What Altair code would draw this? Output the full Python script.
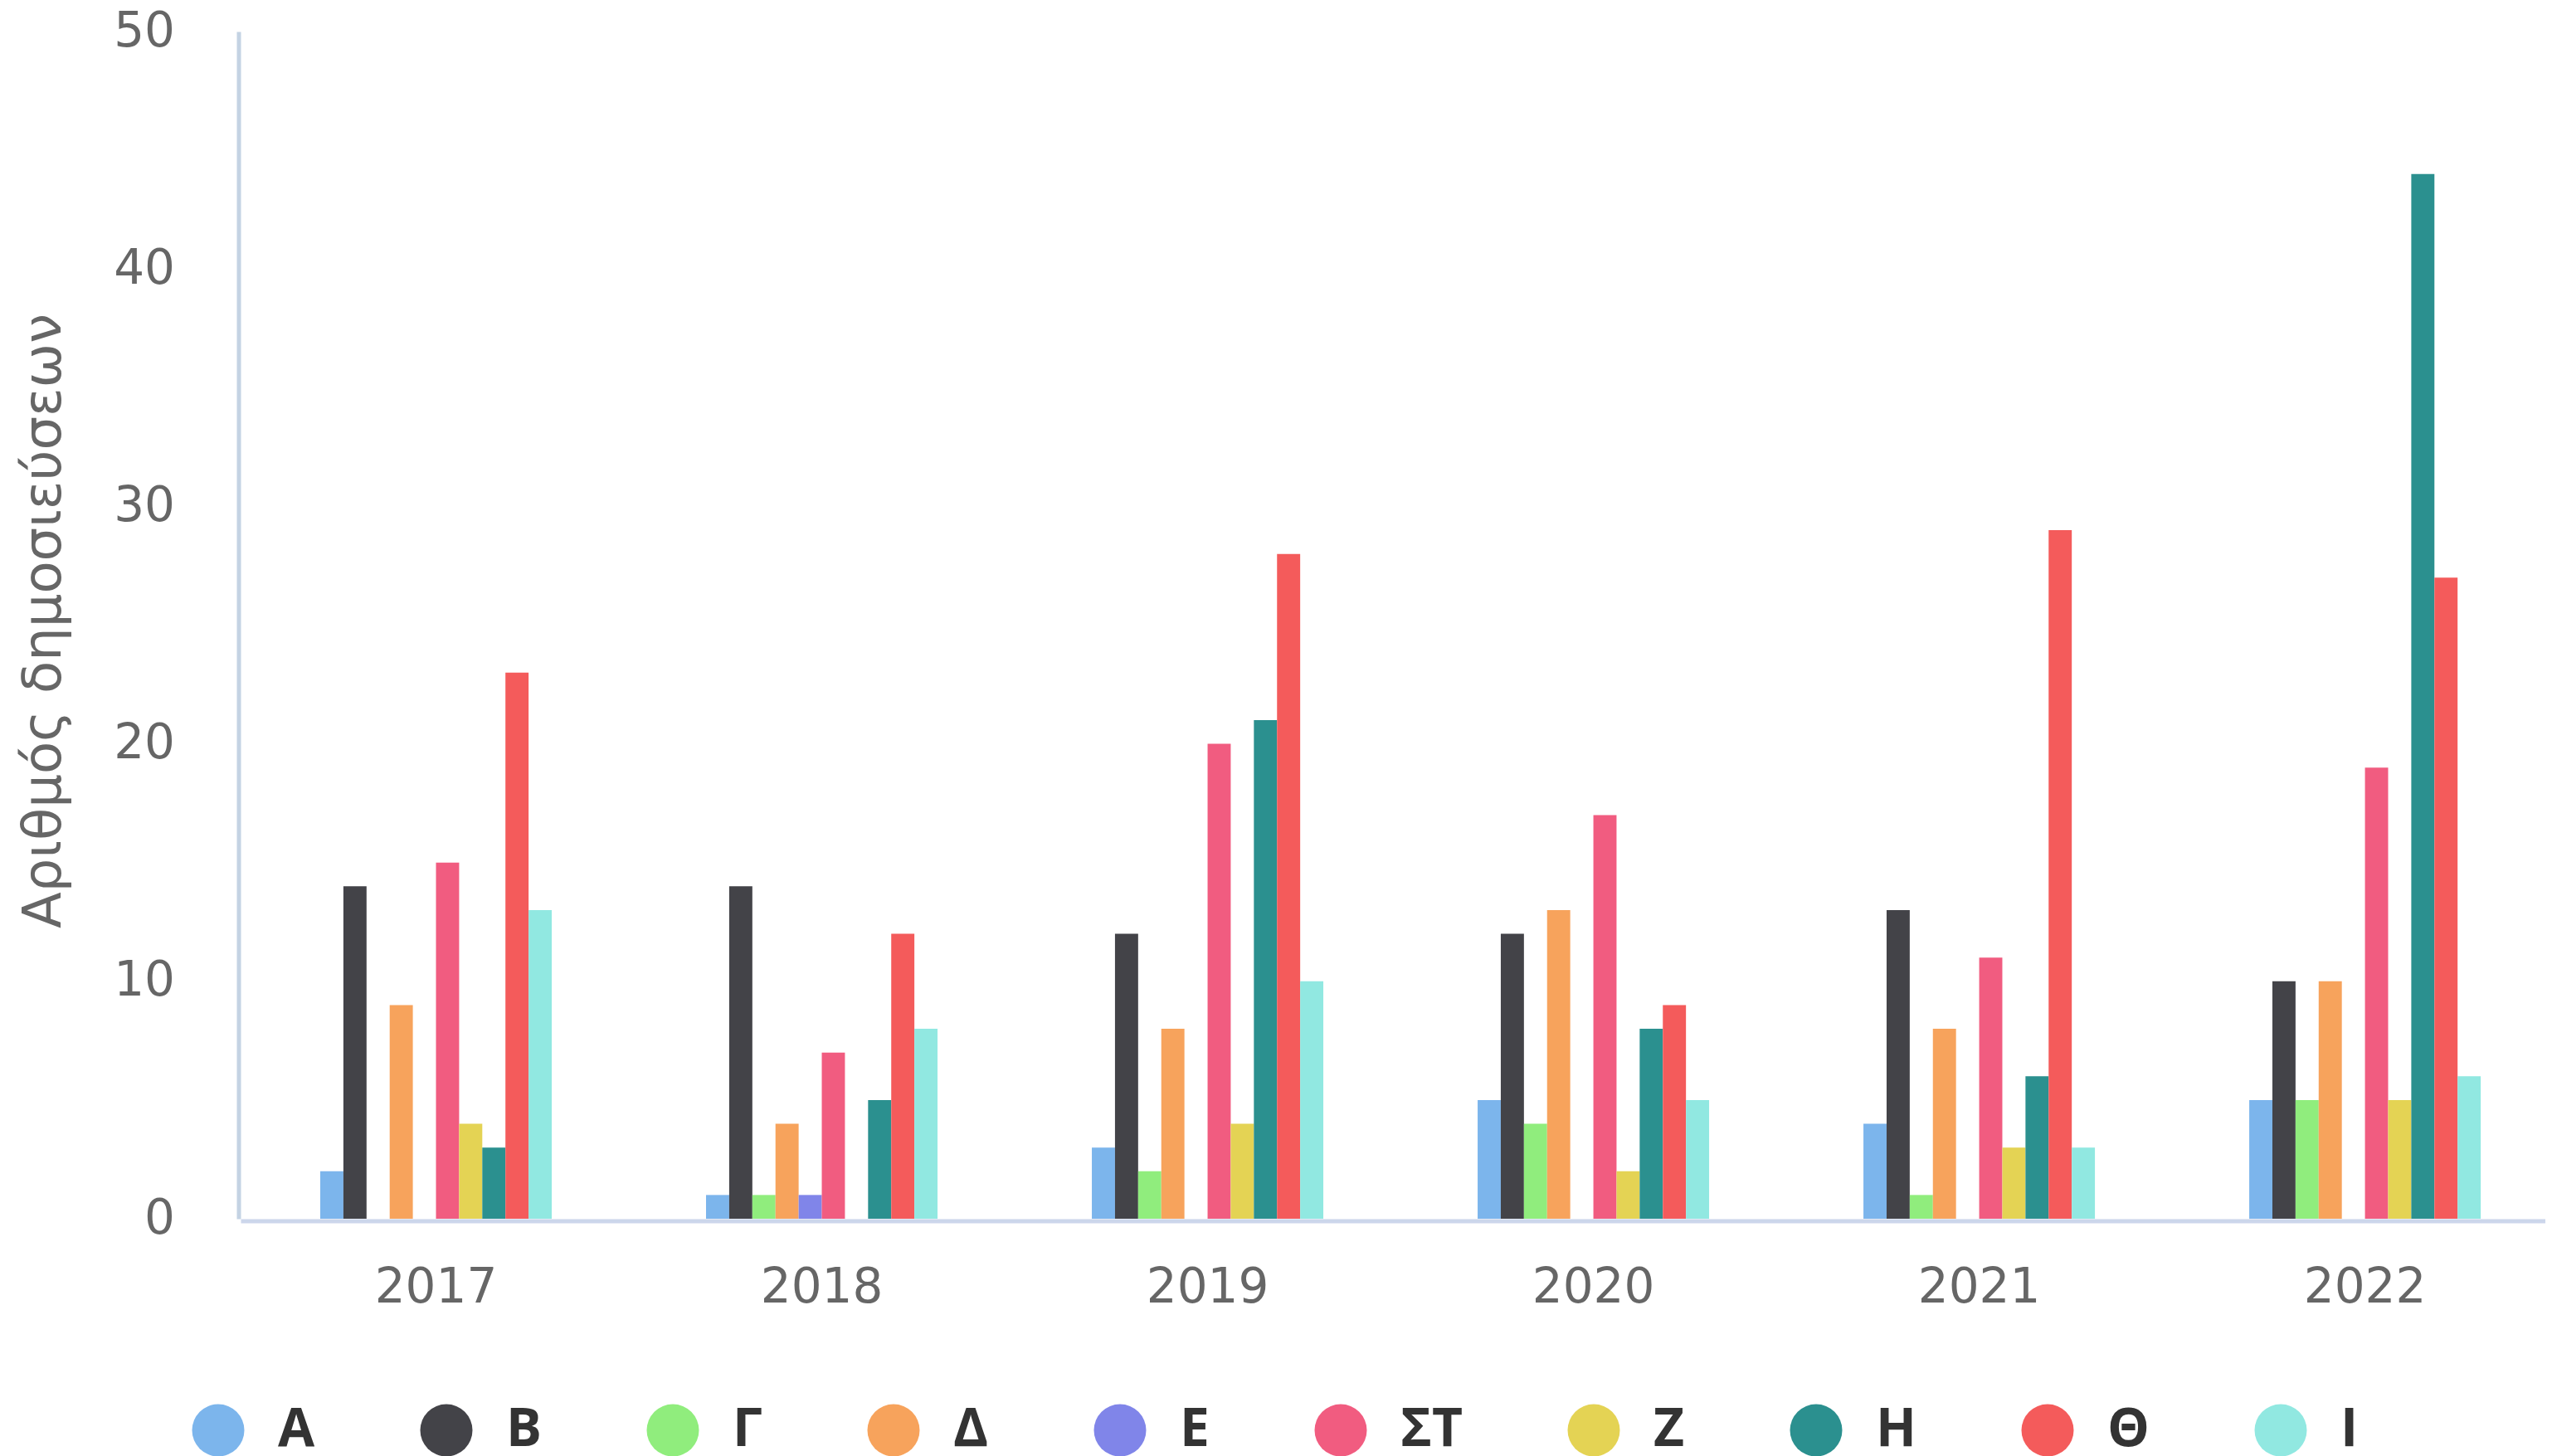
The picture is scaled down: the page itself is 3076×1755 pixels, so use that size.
import altair as alt
import pandas as pd

years = ["2017", "2018", "2019", "2020", "2021", "2022"]
series = ["Α", "Β", "Γ", "Δ", "Ε", "ΣΤ", "Ζ", "Η", "Θ", "Ι"]
colors = ["#7cb5ec", "#434348", "#90ed7d", "#f7a35c", "#8085e9",
          "#f15c80", "#e4d354", "#2b908f", "#f45b5b", "#91e8e1"]

vals_A = [2, 1, 3, 5, 4, 5]
vals_B = [14, 14, 12, 12, 13, 10]
vals_G = [0, 1, 2, 4, 1, 5]
vals_D = [9, 4, 8, 13, 8, 10]
vals_E = [0, 1, 0, 0, 0, 0]
vals_ST = [15, 7, 20, 17, 11, 19]
vals_Z = [4, 0, 4, 2, 3, 5]
vals_H = [3, 5, 21, 8, 6, 44]
vals_TH = [23, 12, 28, 9, 29, 27]
vals_I = [13, 8, 10, 5, 3, 6]

all_vals = [vals_A, vals_B, vals_G, vals_D, vals_E, vals_ST, vals_Z, vals_H, vals_TH, vals_I]

rows = []
for s, vals in zip(series, all_vals):
    for y, v in zip(years, vals):
        rows.append({"year": y, "series": s, "value": v})
df = pd.DataFrame(rows)

FONT = "DejaVu Sans"

chart = alt.Chart(df).mark_bar().encode(
    x=alt.X("year:N", sort=years,
            scale=alt.Scale(paddingInner=0.4, paddingOuter=0.187, align=0.552),
            axis=alt.Axis(title=None, labelAngle=0, ticks=False, grid=False,
                          domainColor="#ccd6eb", domainWidth=5, offset=2.5,
                          labelFont=FONT, labelFontSize=58, labelColor="#666666",
                          labelPadding=52)),
    xOffset=alt.XOffset("series:N", sort=series,
                        scale=alt.Scale(paddingInner=0, paddingOuter=0)),
    y=alt.Y("value:Q",
            scale=alt.Scale(domain=[0, 50], nice=False),
            axis=alt.Axis(title="Αριθμός δημοσιεύσεων", values=[0, 10, 20, 30, 40, 50],
                          ticks=False, grid=False, domainColor="#c4d3e3", domainWidth=5,
                          offset=2.5, labelFont=FONT, labelFontSize=58,
                          labelColor="#666666", labelPadding=77,
                          titleFont=FONT, titleFontSize=64, titleColor="#666666",
                          titleFontWeight="normal", titleX=-215, titleY=710,
                          titleAlign="center", titleBaseline="alphabetic", titleAngle=270)),
    color=alt.Color("series:N", sort=series,
                    scale=alt.Scale(domain=series, range=colors),
                    legend=alt.Legend(title=None, orient="none", direction="horizontal",
                                      columns=10, legendX=-59, legendY=1654,
                                      symbolType="circle", symbolSize=3969,
                                      symbolStrokeWidth=0, symbolOpacity=1,
                                      labelFont="Open Sans", labelFontWeight="bold",
                                      labelFontSize=64, labelColor="#333333",
                                      labelOffset=40, columnPadding=126, padding=0,
                                      labelLimit=400)),
).properties(
    width=2778,
    height=1431,
    autosize=alt.AutoSizeParams(type="none"),
    padding={"left": 282, "top": 30, "right": 0, "bottom": 286},
).configure(background="#ffffff").configure_view(stroke=None)

chart.save("out.html", embed_options={"renderer": "svg", "actions": False})
